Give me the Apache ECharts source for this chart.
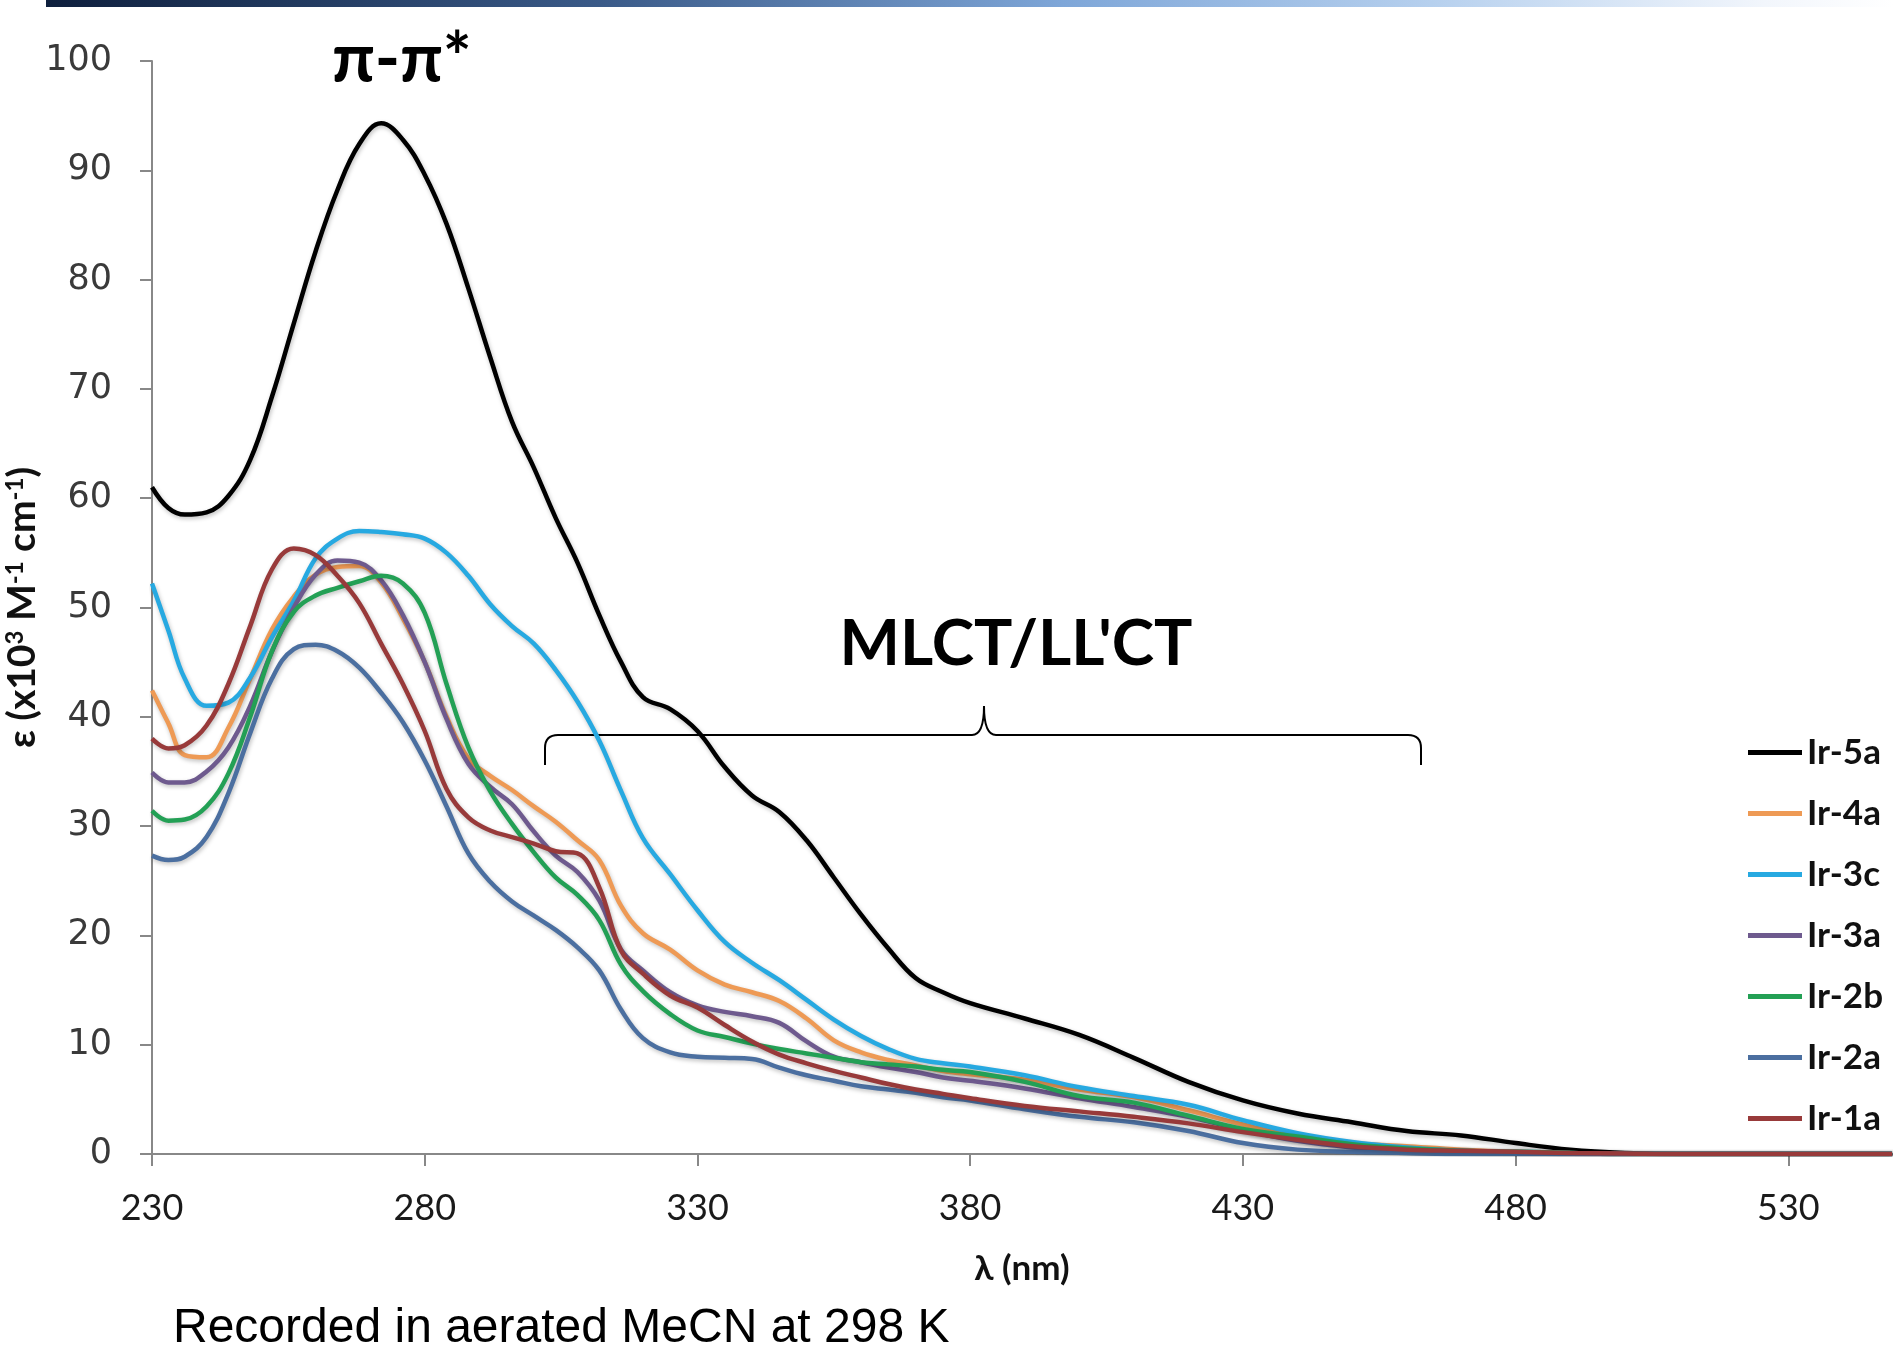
<!DOCTYPE html>
<html>
<head>
<meta charset="utf-8">
<script src="https://cdn.jsdelivr.net/npm/echarts@6/dist/echarts.min.js"></script>
<style>
  html, body { margin: 0; padding: 0; background: #fff; }
  #chart { width: 1893px; height: 1367px; }
</style>
</head>
<body>
<div id="chart"></div>
<script>
// wavelength grid (nm) shared by every spectrum
var wavelengths = [230, 233, 236, 240, 244, 248, 252, 256, 260, 264, 268, 272, 276, 280, 284, 288, 292, 296, 300, 304,
  308, 312, 316, 320, 325, 330, 335, 340, 345, 350, 355, 360, 365, 370, 375, 380, 390, 400, 410, 420,
  430, 440, 450, 460, 470, 480, 490, 500, 510, 549];

// epsilon (x10^3 M-1 cm-1)
var ir5a = [61, 59.1, 58.5, 58.7, 60.2, 63.5, 69.3, 76, 82.6, 88.2, 92.4, 94.3, 92.8, 89.6, 85.1, 79.2, 72.9, 67, 62.8, 58.2,
  54.1, 49.3, 45, 41.8, 40.7, 38.7, 35.4, 32.8, 31.3, 28.7, 25.3, 21.9, 18.8, 16.1, 14.8, 13.8, 12.4, 10.9, 8.8, 6.6,
  4.9, 3.7, 2.9, 2.1, 1.7, 1, 0.4, 0.1, 0, 0];
var ir4a = [42.4, 39.4, 36.5, 36.3, 39, 43.5, 48, 51, 53, 53.7, 53.8, 52.3, 49, 45, 40, 36.2, 34.6, 33.3, 31.8, 30.4,
  28.7, 26.9, 22.7, 20.2, 18.7, 16.8, 15.5, 14.8, 14, 12.4, 10.4, 9.3, 8.6, 8.1, 7.6, 7.3, 6.8, 5.9, 5.2, 4,
  2.7, 1.6, 1, 0.7, 0.4, 0.2, 0.1, 0, 0, 0];
var ir3c = [52.2, 47.9, 43.5, 41, 41.3, 43.6, 47.3, 50.6, 54.5, 56.3, 57, 56.9, 56.7, 56.3, 55, 52.9, 50.3, 48.3, 46.7, 44.3,
  41.4, 37.8, 33.2, 28.9, 25.6, 22.3, 19.4, 17.5, 15.9, 14.1, 12.3, 10.8, 9.6, 8.7, 8.3, 8, 7.2, 6.1, 5.3, 4.5,
  3.1, 1.9, 1.1, 0.6, 0.3, 0.2, 0.1, 0, 0, 0];
var ir3a = [34.9, 34, 34, 35, 37.2, 41, 46, 50, 53, 54.3, 54.1, 52.5, 49.3, 45, 39.8, 35.7, 33.6, 32, 29.5, 27.3,
  25.8, 23.2, 18.7, 16.8, 14.8, 13.6, 13, 12.6, 12, 10.3, 8.9, 8.4, 7.9, 7.5, 7, 6.7, 6, 5.1, 4.3, 3.4,
  2.2, 1.2, 0.6, 0.3, 0.2, 0.1, 0, 0, 0, 0];
var ir2b = [31.4, 30.5, 30.6, 31.8, 34.8, 40, 46, 49.6, 51.1, 51.8, 52.4, 52.9, 52.2, 49.5, 43, 37.2, 33.2, 30.2, 27.6, 25.3,
  23.7, 21.4, 17.3, 14.9, 12.8, 11.3, 10.7, 10.1, 9.6, 9.2, 8.8, 8.4, 8.2, 8, 7.7, 7.5, 6.6, 5.3, 4.7, 3.5,
  2.3, 1.6, 0.9, 0.5, 0.3, 0.2, 0.1, 0, 0, 0];
var ir2a = [27.3, 26.9, 27.2, 29, 33, 38.5, 43.5, 46.2, 46.6, 46, 44.5, 42.2, 39.5, 36, 31.8, 27.5, 24.9, 23.1, 21.8, 20.5,
  18.9, 16.8, 13.2, 10.6, 9.3, 8.9, 8.8, 8.7, 7.9, 7.2, 6.7, 6.2, 5.9, 5.6, 5.2, 4.9, 4.1, 3.4, 2.9, 2.1,
  1, 0.4, 0.2, 0.1, 0, 0, 0, 0, 0, 0];
var ir1a = [38, 37.1, 37.4, 39.2, 43, 48.3, 53.5, 55.4, 54.8, 52.9, 50.4, 46.7, 43, 38.7, 33.4, 30.8, 29.6, 29, 28.4, 27.7,
  27.5, 24.4, 18.6, 16.5, 14.5, 13.4, 11.8, 10.3, 9.1, 8.3, 7.6, 7, 6.4, 5.9, 5.5, 5.1, 4.4, 3.9, 3.4, 2.8,
  2, 1.3, 0.7, 0.4, 0.3, 0.2, 0.1, 0.05, 0, 0];

var seriesNames = ['Ir-5a', 'Ir-4a', 'Ir-3c', 'Ir-3a', 'Ir-2b', 'Ir-2a', 'Ir-1a'];
var seriesValues = [ir5a, ir4a, ir3c, ir3a, ir2b, ir2a, ir1a];
var seriesColors = ['#000000', '#ee9a55', '#27a9e1', '#6e5a8e', '#23a055', '#4b6fa0', '#983a3a'];

var xTicks = [230, 280, 330, 380, 430, 480, 530];

var chart = echarts.init(document.getElementById('chart'));

var series = seriesNames.map(function (name, i) {
  return {
    name: name,
    type: 'line',
    smooth: 0.4,
    symbol: 'none',
    color: seriesColors[i],
    lineStyle: {
      width: 4.5,
      shadowColor: 'rgba(0,0,0,0.25)',
      shadowBlur: 4,
      shadowOffsetX: 1,
      shadowOffsetY: 2
    },
    data: wavelengths.map(function (w, k) { return [w, seriesValues[i][k]]; })
  };
});

// curly brace under the MLCT label
var braceStyle = { stroke: '#000', lineWidth: 2, fill: null };
var brace = [
  { type: 'line', shape: { x1: 545, y1: 765, x2: 545, y2: 748 } },
  { type: 'bezierCurve', shape: { x1: 545, y1: 748, cpx1: 545, cpy1: 735, x2: 558, y2: 735 } },
  { type: 'line', shape: { x1: 558, y1: 735, x2: 972, y2: 735 } },
  { type: 'bezierCurve', shape: { x1: 972, y1: 735, cpx1: 984, cpy1: 735, x2: 984, y2: 706 } },
  { type: 'bezierCurve', shape: { x1: 984, y1: 706, cpx1: 984, cpy1: 735, x2: 996, y2: 735 } },
  { type: 'line', shape: { x1: 996, y1: 735, x2: 1408, y2: 735 } },
  { type: 'bezierCurve', shape: { x1: 1408, y1: 735, cpx1: 1421, cpy1: 735, x2: 1421, y2: 748 } },
  { type: 'line', shape: { x1: 1421, y1: 748, x2: 1421, y2: 765 } }
].map(function (el) { el.style = braceStyle; return el; });

var option = {
  animation: false,
  backgroundColor: '#ffffff',
  grid: { left: 152, right: 1, top: 61, bottom: 213, outerBoundsMode: 'none', containLabel: false },
  legend: {
    data: seriesNames,
    orient: 'vertical',
    left: 1748,
    top: 735,
    padding: 0,
    icon: 'rect',
    itemWidth: 54,
    itemHeight: 5,
    itemGap: 26,
    textStyle: { fontFamily: 'Lato, "Noto Sans", sans-serif', fontWeight: 'bold', fontSize: 35, color: '#111' }
  },
  xAxis: {
    type: 'value',
    min: 230,
    max: 549,
    interval: 50,
    name: 'λ (nm)',
    nameLocation: 'middle',
    nameGap: 97,
    nameTextStyle: { fontFamily: 'Lato, "Noto Sans", sans-serif', fontWeight: 'bold', fontSize: 35, color: '#111' },
    axisLine: { lineStyle: { color: '#888', width: 2 } },
    axisTick: { show: true, length: 12, customValues: xTicks, lineStyle: { color: '#888', width: 2 } },
    axisLabel: { customValues: xTicks, margin: 36, fontFamily: 'Lato, sans-serif', fontSize: 36, color: '#1a1a1a' },
    splitLine: { show: false }
  },
  yAxis: {
    type: 'value',
    min: 0,
    max: 100,
    interval: 10,
    name: '{b|ε (x10}{s|3}{b| M}{s|-1}{b| cm}{s|-1}{b|)}',
    nameLocation: 'middle',
    nameGap: 110,
    nameMoveOverlap: false,
    nameTextStyle: {
      rich: {
        b: { fontFamily: 'Lato, "Noto Sans", sans-serif', fontWeight: 'bold', fontSize: 39, color: '#111' },
        s: { fontFamily: 'Lato, "Noto Sans", sans-serif', fontWeight: 'bold', fontSize: 24, color: '#111', verticalAlign: 'top' }
      }
    },
    axisLine: { show: true, lineStyle: { color: '#888', width: 2 } },
    axisTick: { show: true, length: 12, lineStyle: { color: '#888', width: 2 } },
    axisLabel: { margin: 40, fontFamily: '"DejaVu Sans", Verdana, sans-serif', fontSize: 35, color: '#3a3a3a' },
    splitLine: { show: false }
  },
  graphic: [
    {
      type: 'rect',
      shape: { x: 46, y: 0, width: 1847, height: 7 },
      style: {
        fill: new echarts.graphic.LinearGradient(0, 0, 1, 0, [
          { offset: 0, color: '#0e1f3d' },
          { offset: 0.3, color: '#3a5a88' },
          { offset: 0.55, color: '#7ea6d8' },
          { offset: 0.75, color: '#b6d0ee' },
          { offset: 0.93, color: '#f2f6fc' },
          { offset: 1, color: '#ffffff' }
        ])
      }
    },
    {
      type: 'text',
      style: {
        text: 'π-π*', x: 332, y: 60,
        font: 'bold 68px Lato, "Noto Sans", sans-serif',
        fill: '#000', textAlign: 'left', textVerticalAlign: 'middle'
      }
    },
    {
      type: 'text',
      style: {
        text: "MLCT/LL'CT", x: 1016, y: 644,
        font: 'bold 64px Lato, "Noto Sans", sans-serif',
        fill: '#000', textAlign: 'center', textVerticalAlign: 'middle'
      }
    },
    {
      type: 'text',
      style: {
        text: 'Recorded in aerated MeCN at 298 K', x: 173, y: 1329,
        font: '48px "Liberation Sans", Arial, sans-serif',
        fill: '#000', textAlign: 'left', textVerticalAlign: 'middle'
      }
    }
  ].concat(brace),
  series: series
};

chart.setOption(option);
</script>
</body>
</html>
